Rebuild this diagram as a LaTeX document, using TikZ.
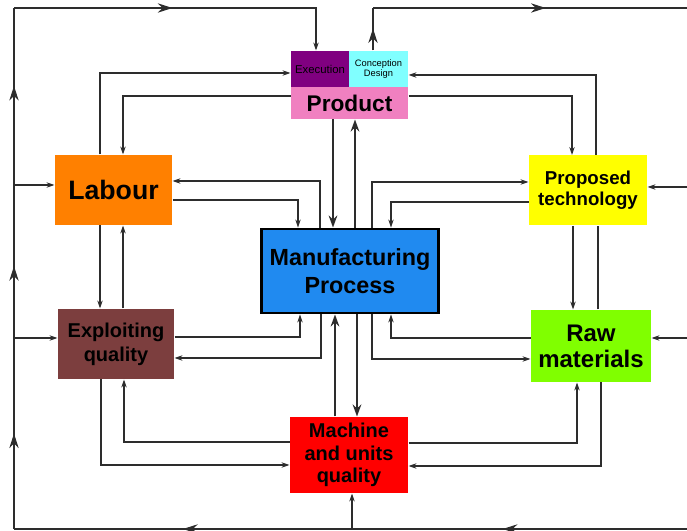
\documentclass[tikz,border=0pt]{standalone}
\usepackage{fontspec}
\setmainfont{Liberation Sans}
\usetikzlibrary{arrows.meta,decorations.markings}

\definecolor{execpurple}{RGB}{128,0,128}
\definecolor{designcyan}{RGB}{128,255,255}
\definecolor{prodpink}{RGB}{240,128,192}
\definecolor{labourorange}{RGB}{255,128,0}
\definecolor{techyellow}{RGB}{255,255,0}
\definecolor{mfgblue}{RGB}{32,138,240}
\definecolor{explbrown}{RGB}{124,62,62}
\definecolor{rawgreen}{RGB}{128,255,0}
\definecolor{machred}{RGB}{255,0,0}
\definecolor{wire}{RGB}{45,45,45}

\tikzset{every picture/.style={line width=0.75pt}}
\tikzset{
	box/.style={inner sep=0pt, align=center, font=\bfseries},
	link/.style={draw=wire, line width=0.9pt, >={Stealth[length=6pt,width=4pt]}},
	heavy/.style={draw=wire, line width=1.5pt, >={Stealth[length=9pt,width=6.5pt]}},
	midarr/.style={postaction={decorate}, decoration={markings, mark=at position #1 with {\arrow{Stealth[length=11pt,width=7pt]}}}},
	midarr/.default=0.5
}

\begin{document}
\begin{tikzpicture}[x=0.75pt,y=0.75pt,yscale=-1,xscale=1]
	\useasboundingbox (0,0) rectangle (687,531);

	%Shape: Rectangle [Product group]
	\node [box, fill=execpurple, minimum width=43.5pt, minimum height=27pt, font=\fontsize{8.5}{9}\selectfont] (exe) at (320,69) {Execution};
	\node [box, fill=designcyan, minimum width=44.25pt, minimum height=27pt, font=\fontsize{7}{7.5}\selectfont] (des) at (378.5,69) {Conception\\Design};
	\node [box, fill=prodpink, minimum width=87.75pt, minimum height=24pt, font=\bfseries\fontsize{17}{20}\selectfont] (prod) at (349.5,103) {Product};
	%Shape: Rectangle [side boxes]
	\node [box, fill=labourorange, minimum width=87.75pt, minimum height=52.5pt, font=\bfseries\fontsize{20}{24}\selectfont] (lab) at (113.5,190) {Labour};
	\node [box, fill=techyellow, minimum width=88.5pt, minimum height=52.5pt, font=\bfseries\fontsize{14}{16}\selectfont] (tech) at (588,190.5) {Proposed\\technology};
	\node [box, fill=explbrown, minimum width=87pt, minimum height=52.5pt, font=\bfseries\fontsize{15}{18}\selectfont] (expl) at (116,344) {Exploiting\\quality};
	\node [box, fill=rawgreen, minimum width=90pt, minimum height=54pt, font=\bfseries\fontsize{18}{19.5}\selectfont] (raw) at (591,346) {Raw\\materials};
	\node [box, fill=machred, minimum width=88.5pt, minimum height=57pt, font=\bfseries\fontsize{15}{17}\selectfont] (mach) at (349,455) {Machine\\and units\\quality};
	%Shape: Rectangle [centre]
	\node [box, fill=mfgblue, draw=black, line width=2.2pt, minimum width=132.75pt, minimum height=63pt, font=\bfseries\fontsize{17.5}{20.5}\selectfont] (mfg) at (350,271) {Manufacturing\\Process};

	%Frame corners
	\coordinate (tl) at (14,8);
	\coordinate (bl) at (14,529);
	\coordinate (br) at (687,529);
	\coordinate (tr) at (687,8);
	\coordinate (tm) at (373,8);
	\coordinate (bm) at (352,529);

	%Straight Lines [outer frame]
	\draw [link, midarr=0.55] (br) -- (bm);
	\draw [link, midarr=0.5] (bm) -- (bl);
	\draw [link, midarr=0.5] (bl) -- (14,338);
	\draw [link, midarr=0.47] (14,338) -- (14,185);
	\draw [link, midarr=0.56] (14,185) -- (tl);
	\draw [link, midarr=0.46, ->] (tl) -| (exe.north -| 316,0);
	\draw [link, ->] (14,185) -- (lab.west |- 0,185);
	\draw [link, ->] (14,338) -- (expl.west |- 0,338);
	\draw [link, ->] (bm) -- (mach.south -| bm);
	\draw [link, midarr=0.52] (des.north -| tm) -- (tm);
	\draw [link, midarr=0.55] (tm) -- (tr);
	\draw [link, ->] (687,187) -- (tech.east |- 0,187);
	\draw [link, ->] (687,338) -- (raw.east |- 0,338);

	%Straight Lines [Product]
	\draw [link, ->] (lab.north -| 100,0) |- (exe.west |- 0,73);
	\draw [link, ->] (prod.west |- 0,96) -| (lab.north -| 123,0);
	\draw [link, ->] (tech.north -| 596,0) |- (des.east |- 0,75);
	\draw [link, ->] (prod.east |- 0,96) -| (tech.north -| 572,0);
	\draw [heavy, ->] (prod.south -| 333,0) -- (mfg.north -| 333,0);
	\draw [heavy, ->] (mfg.north -| 355,0) -- (prod.south -| 355,0);

	%Straight Lines [upper half]
	\draw [link, ->] (mfg.north -| 320,0) |- (lab.east |- 0,181);
	\draw [link, ->] (lab.east |- 0,200) -| (mfg.north -| 298,0);
	\draw [link, ->] (mfg.north -| 372,0) |- (tech.west |- 0,182);
	\draw [link, ->] (tech.west |- 0,202) -| (mfg.north -| 391,0);
	\draw [link, ->] (lab.south -| 100,0) -- (expl.north -| 100,0);
	\draw [link, ->] (expl.north -| 123,0) -- (lab.south -| 123,0);
	\draw [link, ->] (tech.south -| 573,0) -- (raw.north -| 573,0);
	\draw [link] (raw.north -| 598,0) -- (tech.south -| 598,0);

	%Straight Lines [lower half]
	\draw [link, ->] (expl.east |- 0,337) -| (mfg.south -| 300,0);
	\draw [link, ->] (mfg.south -| 321,0) |- (expl.east |- 0,358);
	\draw [link, ->] (raw.west |- 0,338) -| (mfg.south -| 391,0);
	\draw [link, ->] (mfg.south -| 372,0) |- (raw.west |- 0,359);
	\draw [heavy, ->] (mach.north -| 335,0) -- (mfg.south -| 335,0);
	\draw [heavy, ->] (mfg.south -| 357,0) -- (mach.north -| 357,0);
	\draw [link, ->] (mach.west |- 0,442) -| (expl.south -| 124,0);
	\draw [link, ->] (expl.south -| 101,0) |- (mach.west |- 0,465);
	\draw [link, ->] (mach.east |- 0,443) -| (raw.south -| 577,0);
	\draw [link, ->] (raw.south -| 601,0) |- (mach.east |- 0,466);

\end{tikzpicture}
\end{document}
